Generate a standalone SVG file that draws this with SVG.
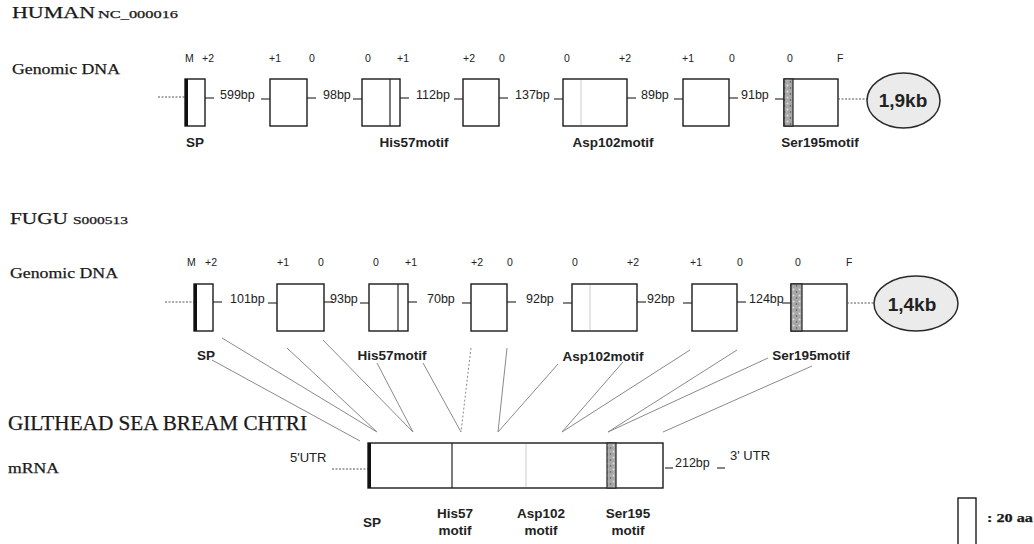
<svg xmlns="http://www.w3.org/2000/svg" width="1034" height="544" viewBox="0 0 1034 544">
<style>
.serif{font-family:"Liberation Serif","Times New Roman",serif;fill:#1a1a1a;stroke:#1a1a1a;stroke-width:0.25}
.sans{font-family:"Liberation Sans",Arial,sans-serif;fill:#222}
.fr{font-size:10.5px}
.bp{font-size:12.5px}
.lbl{font-size:13.5px;font-weight:bold}
.kb{font-size:19px;font-weight:bold;text-anchor:middle}
.ex{fill:#fff;stroke:#1a1a1a;stroke-width:1.4}
.thick{stroke:#111;stroke-width:3}
.tick{stroke:#222;stroke-width:1.1}
.dot{stroke:#555;stroke-width:1;stroke-dasharray:2 1.5}
.inner{stroke:#222;stroke-width:1.2}
.faint{stroke:#ccc;stroke-width:1}
.strip{fill:url(#speck);stroke:#222;stroke-width:1.2}
.ell{fill:#ebebeb;stroke:#2a2a2a;stroke-width:1.5}
.conn{stroke:#8a8a8a;stroke-width:1;fill:none}
.mid{text-anchor:middle}
</style>
<defs>
<pattern id="speck" width="6" height="6" patternUnits="userSpaceOnUse">
<rect width="6" height="6" fill="#a8a8a8"/>
<circle cx="1.5" cy="1.5" r="0.9" fill="#e0e0e0"/>
<circle cx="4.5" cy="4" r="0.8" fill="#555"/>
</pattern>
</defs>

<!-- titles -->
<g id="titles">
<text class="serif" x="12" y="18" font-size="16" textLength="83" lengthAdjust="spacingAndGlyphs">HUMAN</text>
<text class="serif" x="98" y="18" font-size="11" textLength="80" lengthAdjust="spacingAndGlyphs">NC_000016</text>
<text class="serif" x="12" y="74" font-size="15" textLength="108" lengthAdjust="spacingAndGlyphs">Genomic DNA</text>
<text class="serif" x="10" y="224" font-size="16" textLength="58" lengthAdjust="spacingAndGlyphs">FUGU</text>
<text class="serif" x="73" y="224" font-size="11" textLength="55" lengthAdjust="spacingAndGlyphs">S000513</text>
<text class="serif" x="10" y="278" font-size="15" textLength="108" lengthAdjust="spacingAndGlyphs">Genomic DNA</text>
<text class="serif" x="8" y="430" font-size="20" textLength="299" lengthAdjust="spacingAndGlyphs">GILTHEAD SEA BREAM CHTRI</text>
<text class="serif" x="8" y="473" font-size="15" textLength="51" lengthAdjust="spacingAndGlyphs">mRNA</text>
</g>

<!-- HUMAN gene -->
<g id="human-gene">
<g class="sans fr">
<text x="185" y="62">M</text><text x="202" y="62">+2</text>
<text x="269" y="62">+1</text><text x="309" y="62">0</text>
<text x="365" y="62">0</text><text x="397" y="62">+1</text>
<text x="463" y="62">+2</text><text x="499" y="62">0</text>
<text x="564" y="62">0</text><text x="619" y="62">+2</text>
<text x="682" y="62">+1</text><text x="729" y="62">0</text>
<text x="787" y="62">0</text><text x="837" y="62">F</text>
</g>
<line class="dot" x1="158" y1="97" x2="185" y2="97"/>
<g id="h-ex1"><rect class="ex" x="185" y="79" width="20" height="47"/><line class="thick" x1="186.5" y1="79" x2="186.5" y2="126"/></g>
<g id="h-ex2"><rect class="ex" x="270" y="79" width="37" height="47"/></g>
<g id="h-ex3"><rect class="ex" x="362" y="79" width="38" height="47"/><line class="inner" x1="390" y1="79" x2="390" y2="126"/></g>
<g id="h-ex4"><rect class="ex" x="463" y="79" width="36" height="47"/></g>
<g id="h-ex5"><rect class="ex" x="563" y="79" width="64" height="47"/><line class="faint" x1="581" y1="80" x2="581" y2="125"/></g>
<g id="h-ex6"><rect class="ex" x="683" y="79" width="46" height="47"/></g>
<g id="h-ex7"><rect class="ex" x="784" y="79" width="54" height="47"/><rect class="strip" x="784" y="79" width="9" height="47"/></g>
<line class="dot" x1="838" y1="99" x2="867" y2="99"/>
<g class="tick">
<line x1="205" y1="98" x2="214" y2="98"/><line x1="261" y1="99" x2="270" y2="99"/>
<line x1="307" y1="98" x2="316" y2="98"/><line x1="353" y1="99" x2="362" y2="99"/>
<line x1="400" y1="98" x2="409" y2="98"/><line x1="454" y1="99" x2="463" y2="99"/>
<line x1="499" y1="98" x2="508" y2="98"/><line x1="554" y1="99" x2="563" y2="99"/>
<line x1="627" y1="98" x2="636" y2="98"/><line x1="674" y1="99" x2="683" y2="99"/>
<line x1="729" y1="98" x2="738" y2="98"/><line x1="775" y1="99" x2="784" y2="99"/>
</g>
<g class="sans bp">
<text x="220" y="99">599bp</text>
<text x="323" y="99">98bp</text>
<text x="416" y="99">112bp</text>
<text x="515" y="99">137bp</text>
<text x="641" y="99">89bp</text>
<text x="741" y="99">91bp</text>
</g>
<g class="sans lbl mid">
<text x="195" y="147">SP</text>
<text x="414" y="147">His57motif</text>
<text x="613" y="147">Asp102motif</text>
<text x="820" y="147">Ser195motif</text>
</g>
</g>
<g id="human-tail"><ellipse class="ell" cx="903.5" cy="100.5" rx="36.5" ry="27.5"/><text class="sans kb" x="903" y="107">1,9kb</text></g>

<!-- FUGU gene -->
<g id="fugu-gene">
<g class="sans fr">
<text x="187" y="266">M</text><text x="205" y="266">+2</text>
<text x="277" y="266">+1</text><text x="318" y="266">0</text>
<text x="373" y="266">0</text><text x="405" y="266">+1</text>
<text x="471" y="266">+2</text><text x="507" y="266">0</text>
<text x="572" y="266">0</text><text x="627" y="266">+2</text>
<text x="690" y="266">+1</text><text x="737" y="266">0</text>
<text x="795" y="266">0</text><text x="846" y="266">F</text>
</g>
<line class="dot" x1="165" y1="302" x2="194" y2="302"/>
<g id="f-ex1"><rect class="ex" x="194" y="284" width="19" height="47"/><line class="thick" x1="195.5" y1="284" x2="195.5" y2="331"/></g>
<g id="f-ex2"><rect class="ex" x="277" y="284" width="47" height="47"/></g>
<g id="f-ex3"><rect class="ex" x="369" y="284" width="39" height="47"/><line class="inner" x1="398" y1="284" x2="398" y2="331"/></g>
<g id="f-ex4"><rect class="ex" x="471" y="284" width="36" height="47"/></g>
<g id="f-ex5"><rect class="ex" x="572" y="284" width="65" height="47"/><line class="faint" x1="590" y1="285" x2="590" y2="330"/></g>
<g id="f-ex6"><rect class="ex" x="692" y="284" width="45" height="47"/></g>
<g id="f-ex7"><rect class="ex" x="791" y="284" width="56" height="47"/><rect class="strip" x="791" y="284" width="11" height="47"/></g>
<line class="dot" x1="847" y1="303" x2="874" y2="303"/>
<g class="tick">
<line x1="213" y1="302" x2="222" y2="302"/><line x1="268" y1="303" x2="277" y2="303"/>
<line x1="324" y1="302" x2="333" y2="302"/><line x1="360" y1="303" x2="369" y2="303"/>
<line x1="408" y1="302" x2="417" y2="302"/><line x1="462" y1="303" x2="471" y2="303"/>
<line x1="507" y1="302" x2="516" y2="302"/><line x1="563" y1="303" x2="572" y2="303"/>
<line x1="637" y1="302" x2="646" y2="302"/><line x1="683" y1="303" x2="692" y2="303"/>
<line x1="737" y1="302" x2="746" y2="302"/><line x1="782" y1="303" x2="791" y2="303"/>
</g>
<g class="sans bp">
<text x="230" y="303">101bp</text>
<text x="330" y="303">93bp</text>
<text x="427" y="303">70bp</text>
<text x="526" y="303">92bp</text>
<text x="647" y="303">92bp</text>
<text x="749" y="303">124bp</text>
</g>
<g class="sans lbl mid">
<text x="206" y="360">SP</text>
<text x="392" y="360">His57motif</text>
<text x="603" y="361">Asp102motif</text>
<text x="811" y="360">Ser195motif</text>
</g>
</g>
<g id="fugu-tail"><ellipse class="ell" cx="916" cy="303.5" rx="42" ry="27.5"/><text class="sans kb" x="912" y="311">1,4kb</text></g>

<!-- connectors -->
<g id="connectors" class="conn">
<line x1="212" y1="360" x2="360" y2="441"/>
<line x1="222" y1="338" x2="377" y2="432"/>
<line x1="287" y1="348" x2="377" y2="432"/>
<line x1="323" y1="340" x2="413" y2="432"/>
<line x1="377" y1="363" x2="413" y2="432"/>
<line x1="423" y1="363" x2="461" y2="432"/>
<line x1="471" y1="348" x2="461" y2="432" stroke-dasharray="2 2"/>
<line x1="507" y1="348" x2="498" y2="432"/>
<line x1="558" y1="364" x2="498" y2="432"/>
<line x1="623" y1="362" x2="562" y2="432"/>
<line x1="690" y1="350" x2="562" y2="432"/>
<line x1="737" y1="350" x2="608" y2="432"/>
<line x1="768" y1="358" x2="608" y2="432"/>
<line x1="812" y1="366" x2="663" y2="432"/>
</g>

<!-- mRNA -->
<g id="mrna">
<text class="sans" x="290" y="462" font-size="13">5'UTR</text>
<line class="dot" x1="332" y1="469" x2="368" y2="469"/>
<rect class="ex" x="368" y="443" width="295" height="45"/>
<line class="thick" x1="369.5" y1="443" x2="369.5" y2="488"/>
<line class="inner" x1="452" y1="443" x2="452" y2="488"/>
<line class="faint" x1="526" y1="444" x2="526" y2="487"/>
<rect class="strip" x="607" y="443" width="9" height="45"/>
<line class="tick" x1="665" y1="468" x2="673" y2="468"/>
<text class="sans" x="675" y="467" font-size="12.5">212bp</text>
<line class="tick" x1="717" y1="468" x2="725" y2="468"/>
<text class="sans" x="730" y="460" font-size="13">3' UTR</text>
<g class="sans lbl mid">
<text x="372" y="527">SP</text>
<text x="455" y="518">His57</text><text x="455" y="535">motif</text>
<text x="541" y="518">Asp102</text><text x="541" y="535">motif</text>
<text x="628" y="518">Ser195</text><text x="628" y="535">motif</text>
</g>
</g>

<!-- scale legend -->
<g id="legend">
<rect class="ex" x="958" y="498" width="18" height="50"/>
<text class="serif" x="987" y="522" font-size="13" font-weight="bold" textLength="46" lengthAdjust="spacingAndGlyphs">: 20 aa</text>
</g>
</svg>
